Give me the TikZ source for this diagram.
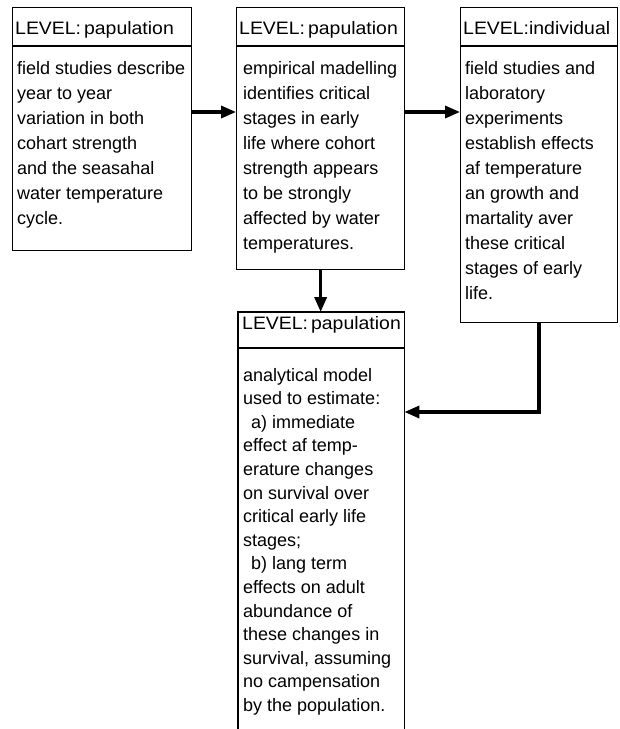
\documentclass[tikz,border=0pt]{standalone}
\usepackage{fontspec}
\setmainfont{Liberation Sans}
\usetikzlibrary{arrows.meta}
\tikzset{
  boxline/.style={draw=black, line width=1.3pt},
  panel/.style={boxline, rectangle, inner sep=0pt, anchor=north west},
  openpanel/.style={rectangle, inner sep=0pt, anchor=north west},
  divider/.style={line width=2.4pt},
  hdr/.style={anchor=base west, inner sep=0pt,
    font=\fontsize{18}{22}\selectfont\addfontfeature{FakeStretch=1.08}},
  txt/.style={anchor=base west, inner sep=0pt, font=\fontsize{18}{22}\selectfont},
  flow/.style={line width=3.4pt, -{Triangle[length=15pt,width=12pt]}},
}
\begin{document}
\begin{tikzpicture}[x=1pt,y=-1pt]
\useasboundingbox[fill=white] (0,0) rectangle (620,729);

% panels
\node[panel, minimum width=179pt, minimum height=243pt] (b1) at (12,7) {};
\node[panel, minimum width=168pt, minimum height=262pt] (b2) at (236,7) {};
\node[panel, minimum width=157pt, minimum height=315pt] (b3) at (460,7) {};
\node[openpanel, minimum width=166pt, minimum height=420pt] (b4) at (238,312) {};
\draw[boxline] (b4.south west) -- (b4.north west) -- (b4.north east) -- (b4.south east);

% header rules
\draw[divider] (b1.west |- 0,46) -- (b1.east |- 0,46);
\draw[divider] (b2.west |- 0,46) -- (b2.east |- 0,46);
\draw[divider] (b3.west |- 0,46) -- (b3.east |- 0,46);
\draw[divider] (b4.west |- 0,348) -- (b4.east |- 0,348);

% headers
\node[hdr] (h1) at (15,34) {LEVEL:\,papulation};
\node[hdr] (h2) at (239,34) {LEVEL:\,papulation};
\node[hdr] (h3) at (463,34) {LEVEL:individual};
\node[hdr] (h4) at (242,329) {LEVEL:\,papulation};

% body text
\foreach \s [count=\i from 0] in {field studies describe, year to year,
  variation in both, cohart strength, and the seasahal,
  water temperature, cycle.}
  \node[txt] (t1-\i) at (17,{74+25*\i}) {\s};

\foreach \s [count=\i from 0] in {empirical madelling, identifies critical,
  stages in early, life where cohort, strength appears, to be strongly,
  affected by water, temperatures.}
  \node[txt] (t2-\i) at (243,{74+25*\i}) {\s};

\foreach \s [count=\i from 0] in {field studies and, laboratory,
  experiments, establish effects, af temperature, an growth and,
  martality aver, these critical, stages of early, life.}
  \node[txt] (t3-\i) at (465,{74+25*\i}) {\s};

\foreach \s [count=\i from 0] in {analytical model, used to estimate:,
  {\hspace*{8pt}a) immediate}, effect af temp-, erature changes,
  on survival over, critical early life, stages;,
  {\hspace*{8pt}b) lang term}, effects on adult, abundance of,
  these changes in, {survival, assuming}, no campensation,
  by the population.}
  \node[txt] (t4-\i) at (243,{381+23.6*\i}) {\s};

% connectors
\draw[flow] (b1.east |- 0,112) -- (b2.west |- 0,112);
\draw[flow] (b2.east |- 0,112) -- (b3.west |- 0,112);
\draw[flow] (b2.south) -- (b2.south |- b4.north);
\draw[flow] (b3.south) |- (b4.east |- 0,412);
\end{tikzpicture}
\end{document}
